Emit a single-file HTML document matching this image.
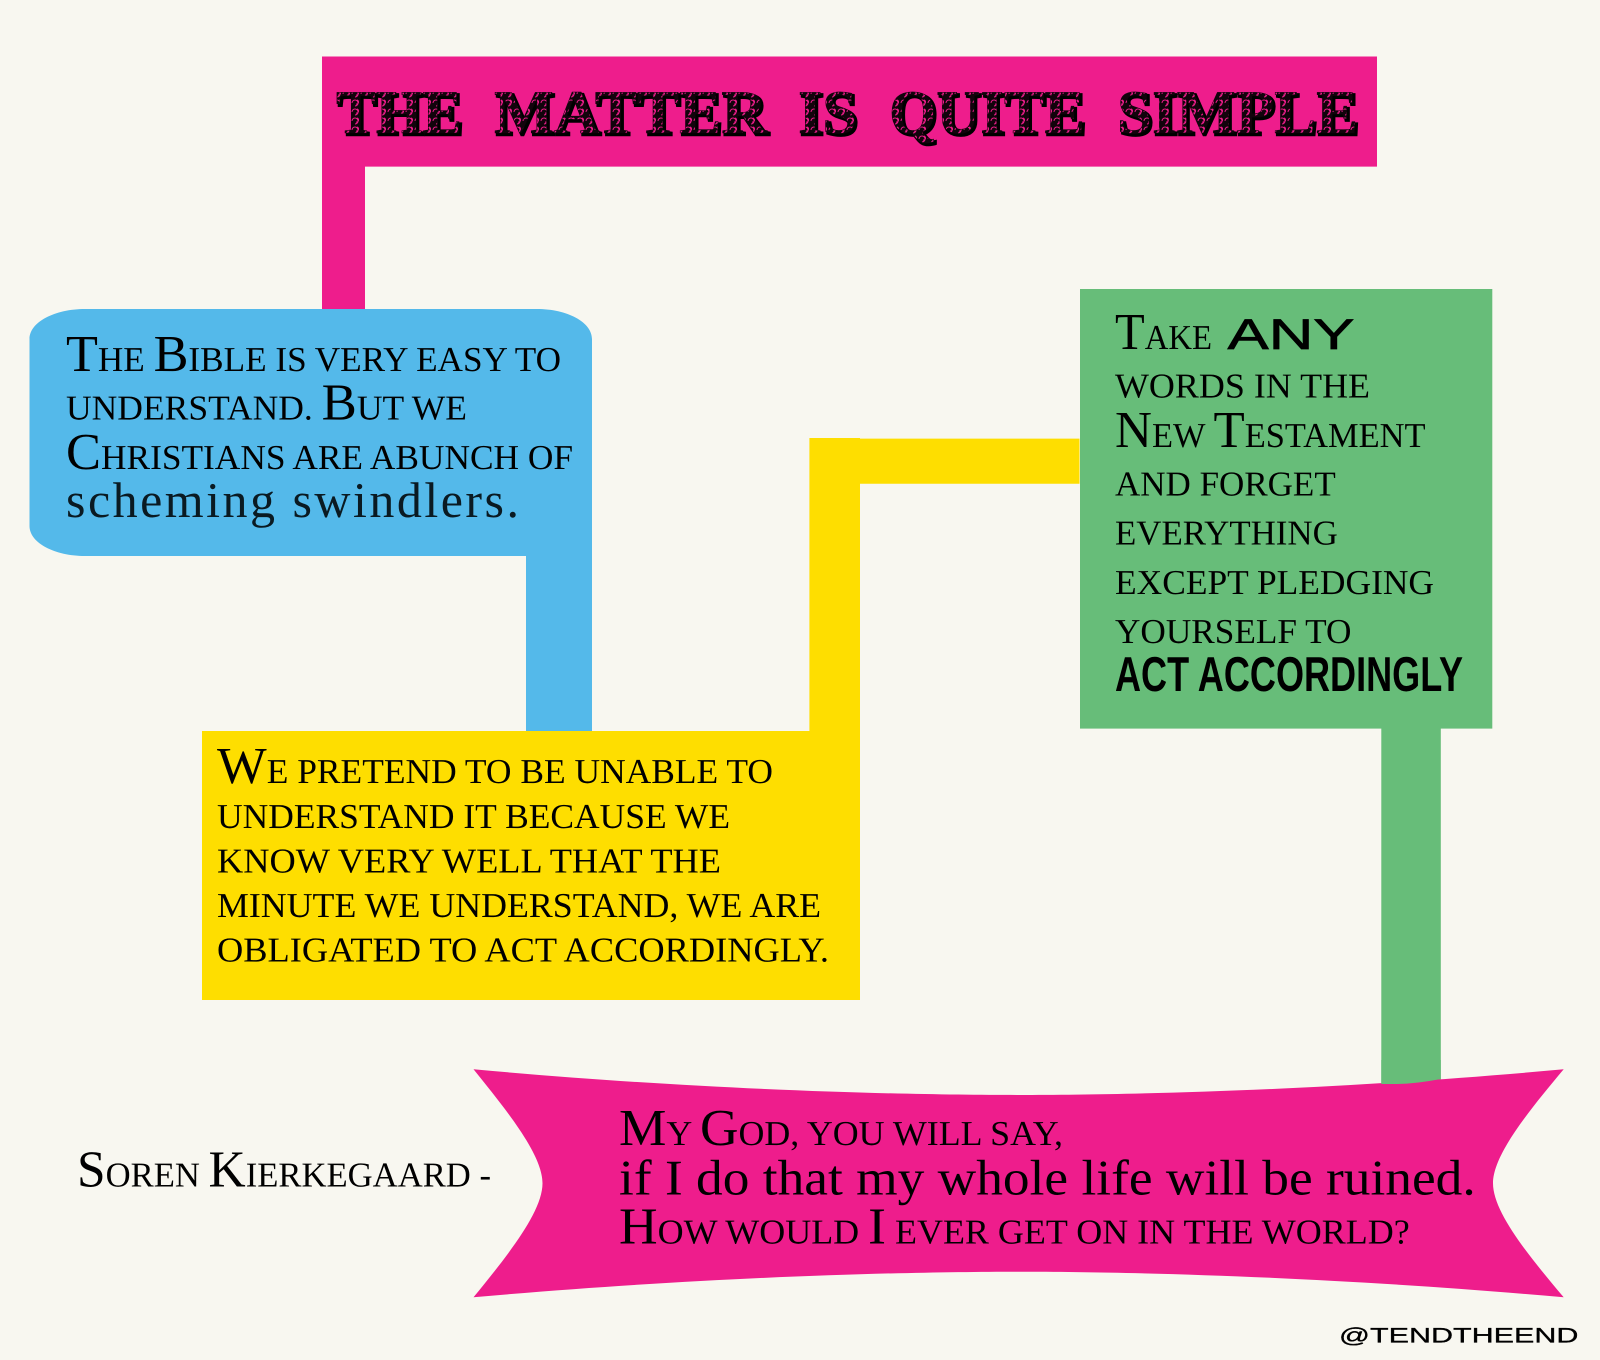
<!DOCTYPE html>
<html>
<head>
<meta charset="utf-8">
<title>The Matter Is Quite Simple</title>
<style>
html,body{margin:0;padding:0;background:#f8f7f0;width:1600px;height:1360px;overflow:hidden}
svg{display:block}
text{font-family:"Liberation Serif",serif;fill:#000;font-size:35px;text-rendering:geometricPrecision}
.b{font-size:52px}
.t{font-weight:bold;font-size:62px}
.sh{stroke:#000;stroke-width:2.5}
.fg{stroke:#12040c;stroke-width:.6}
</style>
</head>
<body>
<svg xmlns="http://www.w3.org/2000/svg" width="1600" height="1360" viewBox="0 0 1600 1360">
<defs>
<pattern id="swirl" width="9" height="9" patternUnits="userSpaceOnUse">
<rect width="9" height="9" fill="#12040c"/>
<path d="M1 4a3 3 0 1 1 3 3M6 1a2 2 0 1 1-1 4" fill="none" stroke="#ee1d8c" stroke-width="1"/>
</pattern>
</defs>
<rect width="1600" height="1360" fill="#f8f7f0"/>

<!-- pink header and connector -->
<path d="M322 56.5H1377V166.6H365V310H322Z" fill="#ee1d8c"/>
<!-- blue bubble and connector -->
<path d="M85 309H537C567 309 592 322 592 339V732H526V556H85C55 556 29.5 543 29.5 526V339C29.5 322 55 309 85 309Z" fill="#54b9ea"/>
<!-- yellow box and connector -->
<path d="M202 731H809.4V438H860V438.6H1079.5V483.7H860V1000H202Z" fill="#fede00"/>
<!-- green box and connector -->
<rect x="1080" y="289" width="412.3" height="439.6" fill="#67bd79"/>
<rect x="1381.3" y="728" width="59.5" height="358" fill="#67bd79"/>
<!-- banner -->
<path d="M473.5 1069.3C700 1090 900 1095 1018.6 1095C1137 1095 1337 1090 1563.7 1069.3C1528 1112 1493 1155 1493 1183.3C1493 1212 1528 1255 1563.7 1297.3C1337 1277 1137 1271.7 1018.6 1271.7C900 1271.7 700 1277 473.5 1297.3C508 1255 542.5 1212 542.5 1183.3C542.5 1155 508 1112 473.5 1069.3Z" fill="#ee1d8c"/>
<path d="M1381.3 1060H1440.8V1079Q1415 1084 1395 1084H1381.3Z" fill="#67bd79"/>

<!-- title -->
<g class="sh">
<text class="t" x="338" y="135" textLength="126" lengthAdjust="spacingAndGlyphs">THE</text>
<text class="t" x="496" y="135" textLength="273" lengthAdjust="spacingAndGlyphs">MATTER</text>
<text class="t" x="800" y="135" textLength="59" lengthAdjust="spacingAndGlyphs">IS</text>
<text class="t" x="891" y="135" textLength="196" lengthAdjust="spacingAndGlyphs">QUITE</text>
<text class="t" x="1119" y="135" textLength="241" lengthAdjust="spacingAndGlyphs">SIMPLE</text>
</g>
<g class="fg">
<text class="t" style="fill:url(#swirl)" x="336" y="133" textLength="126" lengthAdjust="spacingAndGlyphs">THE</text>
<text class="t" style="fill:url(#swirl)" x="494" y="133" textLength="273" lengthAdjust="spacingAndGlyphs">MATTER</text>
<text class="t" style="fill:url(#swirl)" x="798" y="133" textLength="59" lengthAdjust="spacingAndGlyphs">IS</text>
<text class="t" style="fill:url(#swirl)" x="889" y="133" textLength="196" lengthAdjust="spacingAndGlyphs">QUITE</text>
<text class="t" style="fill:url(#swirl)" x="1117" y="133" textLength="241" lengthAdjust="spacingAndGlyphs">SIMPLE</text>
</g>

<!-- blue text -->
<text x="66" y="371" textLength="495" lengthAdjust="spacingAndGlyphs"><tspan class="b">T</tspan>HE <tspan class="b">B</tspan>IBLE IS VERY EASY TO</text>
<text x="66" y="419.5" textLength="401" lengthAdjust="spacingAndGlyphs">UNDERSTAND. <tspan class="b">B</tspan>UT WE</text>
<text x="66" y="469" textLength="507" lengthAdjust="spacingAndGlyphs"><tspan class="b">C</tspan>HRISTIANS ARE ABUNCH OF</text>
<text x="66" y="517" textLength="453" lengthAdjust="spacing" style="font-size:50px;fill:#0a1a22">scheming swindlers.</text>

<!-- yellow text -->
<text x="217" y="783" textLength="556" lengthAdjust="spacingAndGlyphs"><tspan class="b">W</tspan>E PRETEND TO BE UNABLE TO</text>
<text x="217" y="828" textLength="513" lengthAdjust="spacingAndGlyphs">UNDERSTAND IT BECAUSE WE</text>
<text x="217" y="872.5" textLength="504" lengthAdjust="spacingAndGlyphs">KNOW VERY WELL THAT THE</text>
<text x="217" y="917" textLength="604" lengthAdjust="spacingAndGlyphs">MINUTE WE UNDERSTAND, WE ARE</text>
<text x="217" y="961.5" textLength="612" lengthAdjust="spacingAndGlyphs">OBLIGATED TO ACT ACCORDINGLY.</text>

<!-- green text -->
<text x="1115" y="349" textLength="97" lengthAdjust="spacingAndGlyphs"><tspan class="b">T</tspan>AKE</text>
<text x="1227.5" y="349" textLength="127" lengthAdjust="spacingAndGlyphs" style="font-family:'Liberation Sans',sans-serif;font-size:43px;stroke:#000;stroke-width:.7">ANY</text>
<text x="1115" y="397.5" textLength="255" lengthAdjust="spacingAndGlyphs">WORDS IN THE</text>
<text x="1115" y="447" textLength="310.5" lengthAdjust="spacingAndGlyphs"><tspan class="b">N</tspan>EW <tspan class="b">T</tspan>ESTAMENT</text>
<text x="1115" y="495.5" textLength="220.7" lengthAdjust="spacingAndGlyphs">AND FORGET</text>
<text x="1115" y="544.5" textLength="222.8" lengthAdjust="spacingAndGlyphs">EVERYTHING</text>
<text x="1115" y="594" textLength="319" lengthAdjust="spacingAndGlyphs">EXCEPT PLEDGING</text>
<text x="1115" y="643" textLength="236.5" lengthAdjust="spacingAndGlyphs">YOURSELF TO</text>
<text x="1115" y="691" textLength="348" lengthAdjust="spacingAndGlyphs" style="font-family:'Liberation Sans',sans-serif;font-weight:bold;font-size:49px">ACT ACCORDINGLY</text>

<!-- attribution -->
<text x="77" y="1186.5" textLength="414" lengthAdjust="spacingAndGlyphs"><tspan class="b">S</tspan>OREN <tspan class="b">K</tspan>IERKEGAARD -</text>

<!-- banner text -->
<text x="619" y="1145" textLength="444" lengthAdjust="spacingAndGlyphs"><tspan class="b">M</tspan>Y <tspan class="b">G</tspan>OD, YOU WILL SAY,</text>
<text x="619" y="1194.3" textLength="856.7" lengthAdjust="spacingAndGlyphs" style="font-size:50px">if I do that my whole life will be ruined.</text>
<text x="619" y="1243.3" textLength="790.7" lengthAdjust="spacingAndGlyphs"><tspan class="b">H</tspan>OW WOULD <tspan class="b">I</tspan> EVER GET ON IN THE WORLD?</text>

<!-- handle -->
<text x="1339" y="1342.7" textLength="239.4" lengthAdjust="spacingAndGlyphs" style="font-family:'Liberation Sans',sans-serif;font-size:21px;stroke:#000;stroke-width:.3">@TENDTHEEND</text>
</svg>
</body>
</html>
